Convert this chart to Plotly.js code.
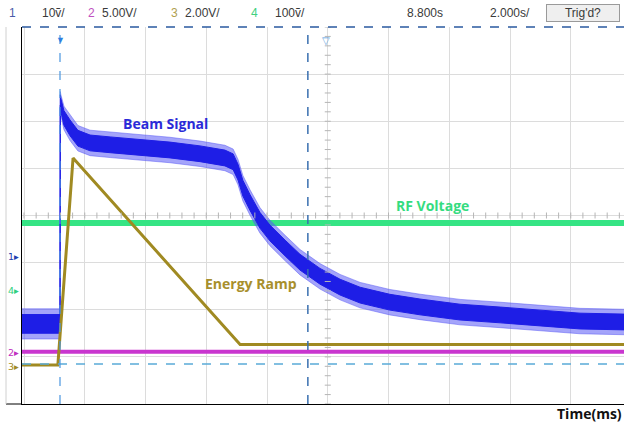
<!DOCTYPE html>
<html><head><meta charset="utf-8">
<script src="https://cdn.plot.ly/plotly-3.0.1.min.js"></script>
<style>html,body{margin:0;padding:0;background:#fff}#chart{width:624px;height:426px}</style>
</head><body><div id="chart"></div>
<script>
// ---- data (time in ms, amplitude in screen divisions) ----
const beamTime   = [-1.25,-0.07,0.0,0.01,0.03,0.13,0.33,0.59,0.99,1.65,2.63,3.62,4.61,5.43,5.70,5.86,6.02,6.26,6.58,6.91,7.41,7.90,8.56,9.22,9.88,10.86,11.85,13.17,14.49,15.80,17.12,18.57];
const beamLevel  = [-2.30,-2.30,-2.30,2.45,2.34,2.07,1.86,1.64,1.54,1.50,1.45,1.39,1.31,1.22,1.14,0.92,0.58,0.27,-0.10,-0.37,-0.69,-0.99,-1.29,-1.52,-1.69,-1.84,-1.94,-2.05,-2.11,-2.18,-2.24,-2.26];
const beamSpread = [0.32,0.32,0.32,0.18,0.22,0.25,0.27,0.27,0.27,0.27,0.27,0.27,0.27,0.27,0.27,0.27,0.27,0.27,0.27,0.27,0.27,0.27,0.27,0.27,0.27,0.27,0.27,0.27,0.27,0.27,0.27,0.27];

const rfTime  = [-1.25, 18.57];
const rfLevel = [-0.16, -0.16];

const ch2Time  = [-1.25, 18.57];
const ch2Level = [-2.89, -2.89];

const rampTime  = [-1.25,-0.07,0.43,5.93,18.57];
const rampLevel = [-3.17,-3.17,1.22,-2.74,-2.74];

const headerLabels = ["1","10ṽ/","2","5.00V/","3","2.00V/","4","100ṽ/","8.800s","2.000s/"];
const channelMarks = ["1▸","4▸","2▸","3▸"];

// ---- helpers ----
const X0 = 22, Y0 = 27, PW = 602, PH = 377;
const px = v => (v - X0) / PW;
const py = v => (404 - v) / PH;

const upper = (k) => beamLevel.map((v,i)=>v + beamSpread[i]*k);
const lower = (k) => beamLevel.map((v,i)=>v - beamSpread[i]*k);

const traces = [
  {x: rfTime, y: rfLevel, mode:'lines', line:{color:'#35e484', width:6}, hoverinfo:'skip'},
  {x: beamTime, y: lower(1), mode:'lines', line:{color:'rgba(90,90,245,0.5)', width:1}, hoverinfo:'skip'},
  {x: beamTime, y: upper(1), mode:'lines', fill:'tonexty', fillcolor:'rgba(90,90,245,0.55)', line:{color:'rgba(90,90,245,0.5)', width:1}, hoverinfo:'skip'},
  {x: beamTime, y: lower(0.62), mode:'lines', line:{color:'#1e1ee6', width:1}, hoverinfo:'skip'},
  {x: beamTime, y: upper(0.62), mode:'lines', fill:'tonexty', fillcolor:'#1e1ee6', line:{color:'#1e1ee6', width:1}, hoverinfo:'skip'},
  {x: ch2Time, y: ch2Level, mode:'lines', line:{color:'#c936cf', width:4}, hoverinfo:'skip'},
  {x: rampTime, y: rampLevel, mode:'lines', line:{color:'#a08a22', width:3}, hoverinfo:'skip'}
];

const shapes = [];
for (let t = -1.185; t <= 18.6; t += 0.4) {
  shapes.push({type:'line', xref:'x', yref:'y', x0:t, x1:t, ysizemode:'pixel', yanchor:0, y0:-3, y1:3, line:{color:'#b5b5b5', width:1}});
}
for (let v = -4; v <= 4.001; v += 0.2) {
  shapes.push({type:'line', xref:'x', yref:'y', y0:v, y1:v, xsizemode:'pixel', xanchor:8.815, x0:-3, x1:3, line:{color:'#b5b5b5', width:1}});
}
shapes.push({type:'line', xref:'paper', yref:'y', x0:0, x1:1, y0:-3.15, y1:-3.15, line:{color:'#5aaad8', width:1.5, dash:'dash'}});
shapes.push({type:'line', xref:'x', yref:'paper', x0:0, x1:0, y0:0, y1:1, line:{color:'#4a96e0', width:1.2, dash:'dash'}});
shapes.push({type:'line', xref:'x', yref:'paper', x0:8.16, x1:8.16, y0:0, y1:1, line:{color:'#3a6fb0', width:1.5, dash:'dash'}});
shapes.push({type:'line', xref:'paper', yref:'paper', x0:0, x1:1, y0:1, y1:1, line:{color:'#2a5aa0', width:1.5, dash:'dash'}});
shapes.push({type:'line', xref:'paper', yref:'paper', x0:px(6), x1:0, y0:0, y1:0, line:{color:'#000', width:1}});
shapes.push({type:'line', xref:'paper', yref:'paper', x0:px(6), x1:px(6), y0:0, y1:1, line:{color:'#d0d0d0', width:1}});

const hf = {family:'Liberation Sans, Arial, sans-serif', size:12, color:'#3a3a3a'};
const hy = py(13);
const ann = [];
const headerPos = [
  {x:12, c:'#4a5aa8', a:'center'}, {x:40, c:'#3a3a3a', a:'left'},
  {x:91, c:'#c050c0', a:'center'}, {x:100, c:'#3a3a3a', a:'left'},
  {x:174, c:'#b0a050', a:'center'}, {x:183, c:'#3a3a3a', a:'left'},
  {x:254, c:'#40d080', a:'center'}, {x:273, c:'#3a3a3a', a:'left'},
  {x:405, c:'#3a3a3a', a:'left'}, {x:488, c:'#3a3a3a', a:'left'}
];
headerLabels.forEach((s,i)=>{
  ann.push({xref:'paper', yref:'paper', x:px(headerPos[i].x), y:hy, xanchor:headerPos[i].a, yanchor:'middle', text:s, showarrow:false, font:Object.assign({}, hf, {color:headerPos[i].c})});
});
ann.push({xref:'paper', yref:'paper', x:px(583), y:hy, xanchor:'center', yanchor:'middle', text:"Trig'd?", showarrow:false,
  font:hf, bgcolor:'#efefef', bordercolor:'#9a9a9a', borderwidth:1, width:70, height:14});

const markY = [256, 290, 352, 366];
const markC = ['#2040b0', '#30d080', '#c030c0', '#a08a22'];
channelMarks.forEach((s,i)=>{
  ann.push({xref:'paper', yref:'paper', x:px(13), y:py(markY[i]), xanchor:'center', yanchor:'middle', text:s, showarrow:false,
    font:{family:'DejaVu Sans, sans-serif', size:9.5, color:markC[i]}});
});
ann.push({xref:'x', yref:'paper', x:0, y:py(31), text:'▼', showarrow:false, font:{size:9, color:'#2f7fe0'}});
ann.push({xref:'x', yref:'paper', x:8.76, y:py(31), text:'▽', showarrow:false, font:{size:10, color:'#5aa0e0'}});

const lf = {family:'Open Sans, Noto Sans, sans-serif', size:14};
ann.push({xref:'x', yref:'y', x:3.47, y:1.96, text:'<b>Beam Signal</b>', showarrow:false, font:Object.assign({}, lf, {color:'#2a2ad8'})});
ann.push({xref:'x', yref:'y', x:12.26, y:0.22, text:'<b>RF Voltage</b>', showarrow:false, font:Object.assign({}, lf, {color:'#35dc80'})});
ann.push({xref:'x', yref:'y', x:6.29, y:-1.45, text:'<b>Energy Ramp</b>', showarrow:false, font:Object.assign({}, lf, {color:'#a88f2c'})});
ann.push({xref:'paper', yref:'paper', x:1, y:py(413), xanchor:'right', yanchor:'middle', text:'<b>Time(ms)</b>', showarrow:false,
  font:{family:'Open Sans, Noto Sans, sans-serif', size:14, color:'#111'}});

const layout = {
  width:624, height:426,
  margin:{l:X0, r:0, t:Y0, b:22, pad:0},
  paper_bgcolor:'#fff', plot_bgcolor:'#fff',
  showlegend:false,
  xaxis:{range:[-1.251, 18.568], tick0:-1.185, dtick:2, showgrid:true, gridcolor:'#dcdcdc', gridwidth:1,
         showticklabels:false, ticks:'', zeroline:false, showline:true, linecolor:'#000', linewidth:1, fixedrange:true},
  yaxis:{range:[-4, 4], tick0:0, dtick:1, showgrid:true, gridcolor:'#dcdcdc', gridwidth:1,
         showticklabels:false, ticks:'', zeroline:false, showline:true, linecolor:'#000', linewidth:1, fixedrange:true},
  shapes:shapes,
  annotations:ann
};

Plotly.newPlot('chart', traces, layout, {displayModeBar:false, staticPlot:true});
</script>
</body></html>
